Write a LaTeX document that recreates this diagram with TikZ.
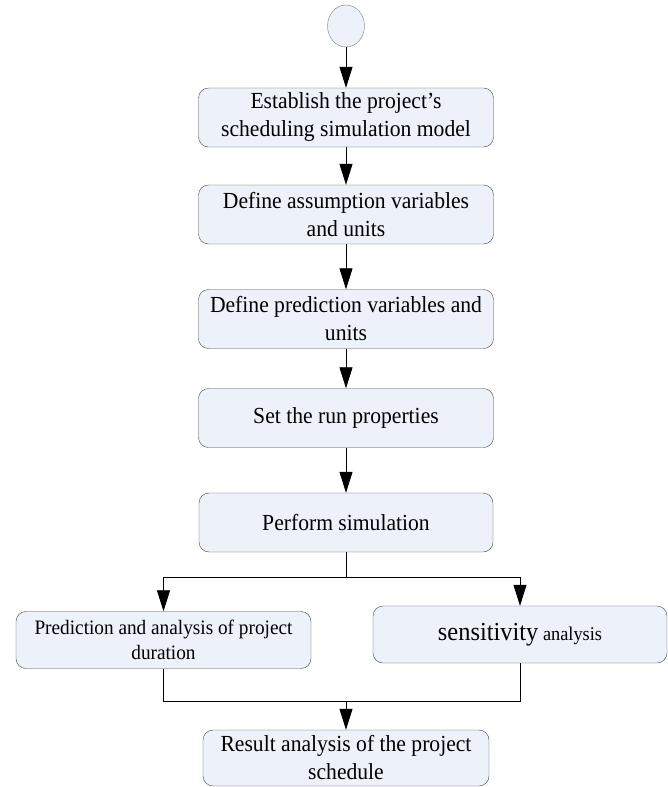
\documentclass[tikz,border=0pt]{standalone}
\usepackage{fontspec}
\setmainfont{Liberation Serif}[FakeStretch=0.94]
\usepackage{tikz}
\usetikzlibrary{arrows.meta, shapes.geometric}
\definecolor{boxFill}{RGB}{236,241,250}
\definecolor{boxLine}{RGB}{70,70,70}

\begin{document}
\begin{tikzpicture}[x=1pt, y=1pt, font=\fontsize{23}{28}\selectfont,
    stepbox/.style={draw=boxLine, fill=boxFill, rounded corners=10pt,
        minimum width=295pt, minimum height=59pt, align=center,
        inner sep=2pt},
    arr/.style={-{Triangle[length=21pt, width=13pt]}},
    conn/.style={draw, line width=0.8pt}]

\useasboundingbox (0,0) rectangle (668,-787);

% Start
\node[ellipse, draw=gray, fill=boxFill, minimum width=37pt,
    minimum height=42pt, inner sep=0pt] (start) at (346,-26) {};

% Steps
\node[stepbox] (est) at (346,-117.5)
    {Establish the project's\\scheduling simulation model};
\node[stepbox] (asm) at (346,-214.5)
    {Define assumption variables\\and units};
\node[stepbox] (pred) at (346,-319)
    {Define prediction variables and\\units};
\node[stepbox] (run) at (346,-418)
    {Set the run properties};
\node[stepbox, minimum width=294pt] (sim) at (346,-522.5)
    {Perform simulation};

% Branches
\node[stepbox, minimum height=57pt, font=\fontsize{20.5}{25}\selectfont]
    (dur) at (163.5,-640)
    {Prediction and analysis of project\\duration};
\node[stepbox, minimum width=294pt, minimum height=57pt,
    font=\fontsize{19.5}{24}\selectfont] (sens) at (520,-634.5)
    {{\fontsize{26}{30}\selectfont sensitivity} analysis};

% Result
\node[stepbox, minimum width=286pt, minimum height=56pt] (res) at (346,-758)
    {Result analysis of the project\\schedule};

% Connectors
\draw[conn, arr] (start) -- (est);
\draw[conn, arr] (est) -- (asm);
\draw[conn, arr] (asm) -- (pred);
\draw[conn, arr] (pred) -- (run);
\draw[conn, arr] (run) -- (sim);

\coordinate (split) at (346,-577);
\draw[conn] (sim) -- (split);
\draw[conn, arr] (split) -| (dur);
\draw[conn, arr] (split) -| (sens);

\coordinate (join) at (346,-701);
\draw[conn] (dur) |- (join);
\draw[conn] (sens) |- (join);
\draw[conn, arr] (join) -- (res);

\end{tikzpicture}
\end{document}
